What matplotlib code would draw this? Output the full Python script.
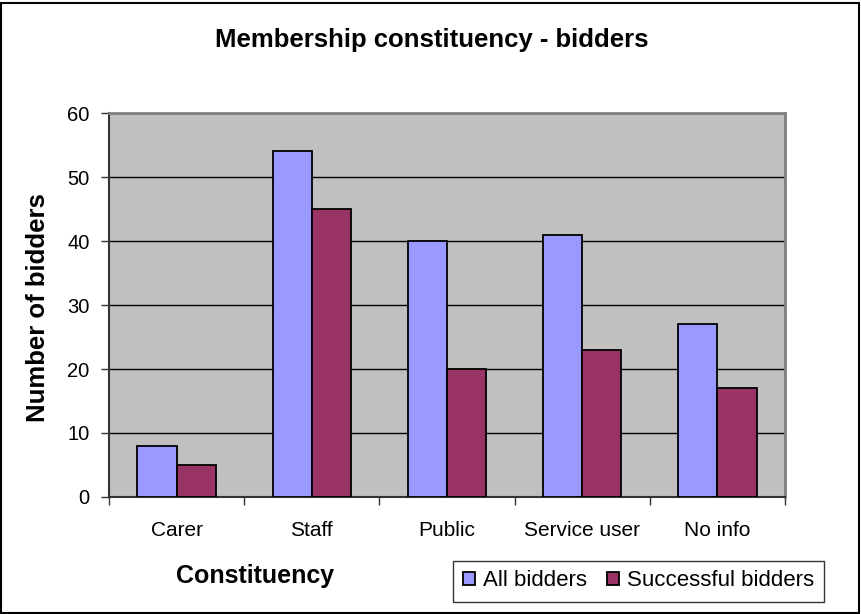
import matplotlib
matplotlib.use("Agg")
import matplotlib.pyplot as plt
import numpy as np
from matplotlib.patches import Rectangle

plt.rcParams['font.family'] = ['Liberation Sans', 'DejaVu Sans']

categories = ["Carer", "Staff", "Public", "Service user", "No info"]
all_bidders = [8, 54, 40, 41, 27]
successful_bidders = [5, 45, 20, 23, 17]
series_names = ["All bidders", "Successful bidders"]
series_colors = ["#9999FF", "#993366"]
y_ticks = [0, 10, 20, 30, 40, 50, 60]

W, H = 861, 614
fig = plt.figure(figsize=(W / 100, H / 100), dpi=100)

# outer chart border
fig.patches.append(Rectangle((1 / W, 1 / H), (W - 3) / W, (H - 4) / H,
                             transform=fig.transFigure, fill=False,
                             edgecolor="black", linewidth=1.5, zorder=0))

left, right, top, bottom = 109, 785, 113, 497
ax = fig.add_axes([left / W, 1 - bottom / H, (right - left) / W, (bottom - top) / H])
ax.set_facecolor("#C0C0C0")

x = np.arange(len(categories))
bw = 0.29
ax.bar(x - bw / 2, all_bidders, bw, color=series_colors[0], edgecolor="black",
       linewidth=1.3, label=series_names[0], zorder=3)
ax.bar(x + bw / 2, successful_bidders, bw, color=series_colors[1], edgecolor="black",
       linewidth=1.3, label=series_names[1], zorder=3)

ax.set_xlim(-0.5, len(categories) - 0.5)
ax.set_ylim(0, 60)
ax.set_yticks(y_ticks)
ax.yaxis.grid(True, color="black", linewidth=1.0, zorder=1)
ax.set_axisbelow(True)

# category ticks sit on the boundaries between groups
ax.set_xticks(np.arange(len(categories) + 1) - 0.5)
ax.set_xticklabels([])
ax.set_xticks(x, minor=True)
ax.set_xticklabels(categories, minor=True)
ax.tick_params(axis="x", which="minor", length=0, pad=17, labelsize=15)
ax.tick_params(axis="x", which="major", length=6, width=1, direction="out", color="#333333")
ax.tick_params(axis="y", length=6, width=1, direction="out", labelsize=14.5, pad=8, color="#333333")

for side in ["top", "right"]:
    ax.spines[side].set_color("#808080")
    ax.spines[side].set_linewidth(2)
ax.spines["left"].set_color("#333333")
ax.spines["left"].set_linewidth(1.5)
ax.spines["bottom"].set_color("#333333")
ax.spines["bottom"].set_linewidth(1.5)

fig.text(432 / W, 1 - 40 / H, "Membership constituency - bidders",
         ha="center", va="center", fontsize=18.5, fontweight="bold")
fig.text(38 / W, 1 - 308 / H, "Number of bidders", rotation=90,
         ha="center", va="center", fontsize=18.5, fontweight="bold")
fig.text(255 / W, 1 - 576 / H, "Constituency",
         ha="center", va="center", fontsize=18, fontweight="bold")

leg = ax.legend(loc="center", bbox_to_anchor=(638.5 / W, 1 - 581 / H),
                bbox_transform=fig.transFigure, ncol=2, frameon=True,
                fancybox=False, edgecolor="black", fontsize=16,
                handlelength=0.55, handleheight=0.55, handletextpad=0.36,
                columnspacing=0.9, borderpad=0.45, borderaxespad=0)
leg.get_frame().set_linewidth(1.0)

fig.savefig("out.png", dpi=100)
